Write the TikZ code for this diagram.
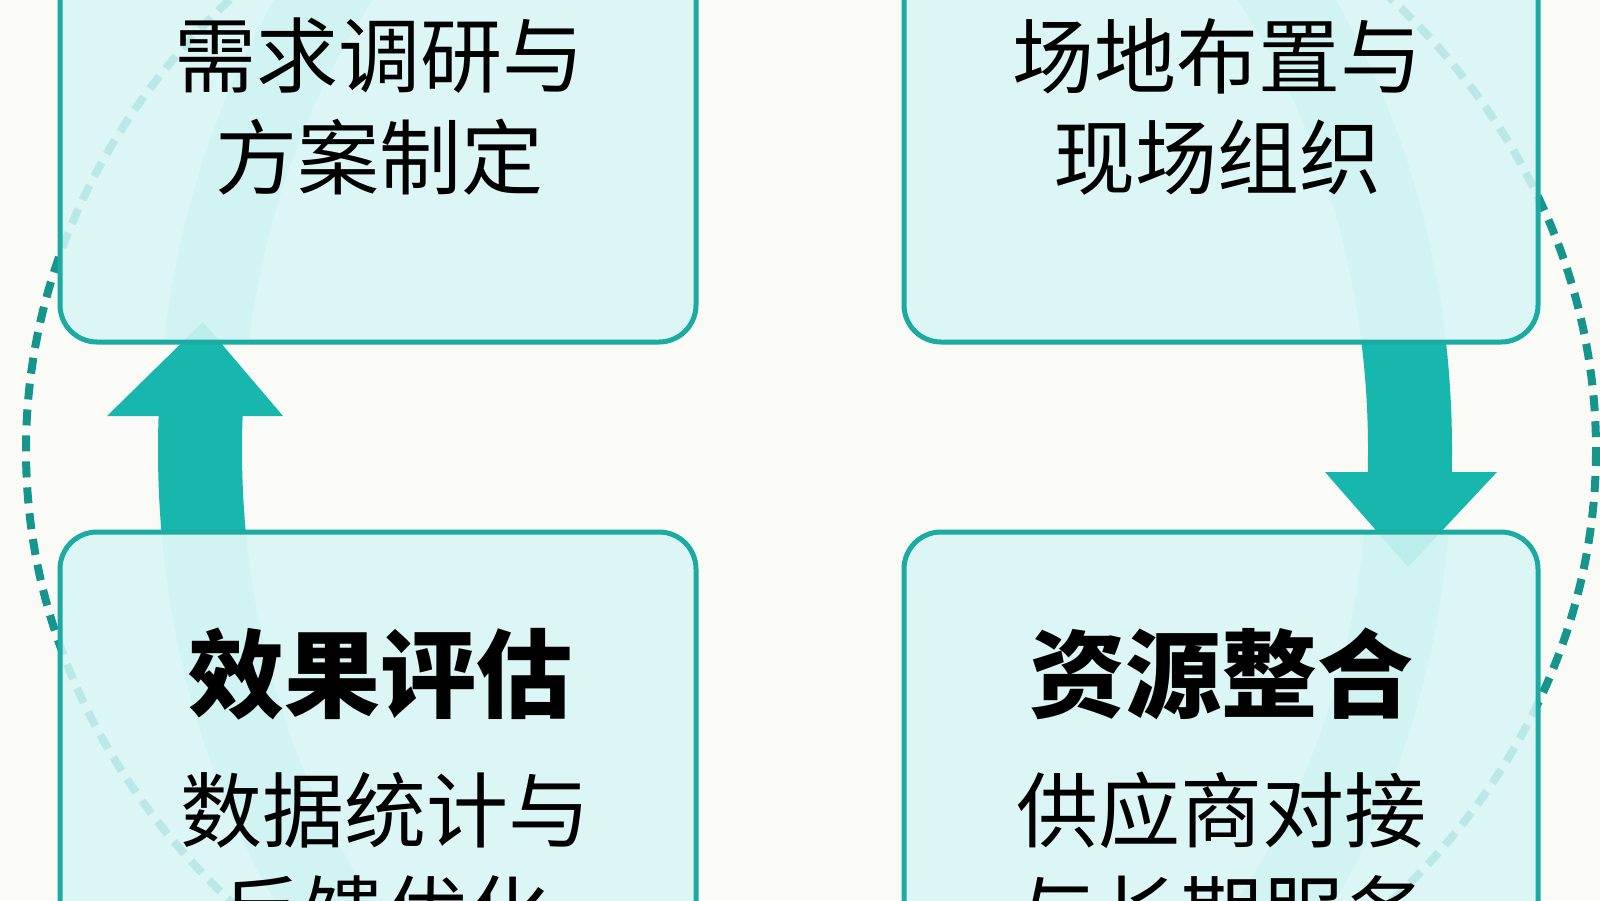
\documentclass[tikz,border=0pt]{standalone}
\usepackage{fontspec}
\newfontfamily\cjk{Noto Sans CJK SC}
\definecolor{bg}{HTML}{FAFAF6}
\definecolor{boxfill}{HTML}{D6F6F5}
\definecolor{boxline}{HTML}{1BABA3}
\definecolor{arrowc}{HTML}{17B7AD}
\definecolor{dashc}{HTML}{15958C}
\begin{document}
\begin{tikzpicture}[x=1pt,y=-1pt,
  box/.style={draw=boxline, line width=5pt, fill=boxfill, fill opacity=0.86,
    rounded corners=37pt, inner sep=0pt},
  lbl/.style={font=\cjk\fontsize{82}{100}\selectfont, anchor=base, inner sep=0pt, text=black},
  ttl/.style={font=\cjk\bfseries\fontsize{96}{110}\selectfont, anchor=base, inner sep=0pt, text=black},
  head/.style={fill=arrowc, draw=none},
  band/.style={draw=arrowc, line width=84pt},
  faintband/.style={draw=arrowc, draw opacity=0.3, line width=84pt},
  ring/.style={draw=dashc, line width=8pt, dash pattern=on 16pt off 10pt}]
% background
\fill[bg] (0,0) rectangle (1600,900);
\useasboundingbox (0,0) rectangle (1600,900);
\clip (0,0) rectangle (1600,900);
% dashed outer ring
\draw[ring] (811,450) ellipse [x radius=785, y radius=670];
% flow band, faint where the boxes cover it
\begin{scope}
  \clip (-10,-10) rectangle (1610,342)
        (-10,532) rectangle (1610,910);
  \draw[faintband] (805,450) ellipse [x radius=605, y radius=745];
\end{scope}
% arrow shafts
\begin{scope}
  \clip (-10,416) rectangle (800,532)
        (800,342) rectangle (1610,472);
  \draw[band] (805,450) ellipse [x radius=605, y radius=745];
\end{scope}
% arrow heads
\coordinate (lhl) at (107,416);
\coordinate (lhr) at (283,416);
\coordinate (lht) at (203,322);
\coordinate (rhl) at (1325,472);
\coordinate (rhr) at (1497,472);
\coordinate (rht) at (1408,567);
\fill[head] (lhl) -- (lhr) -- (lht) -- cycle;
\fill[head] (rhl) -- (rhr) -- (rht) -- cycle;
% boxes
\node[box, minimum width=636pt, minimum height=642pt] (b1) at (378,21) {};
\node[box, minimum width=634pt, minimum height=642pt] (b2) at (1221,21) {};
\node[box, minimum width=636pt, minimum height=668pt] (b4) at (378,866) {};
\node[box, minimum width=634pt, minimum height=668pt] (b3) at (1221,866) {};
% texts
\node[lbl] (t1a) at (379,86) {需求调研与};
\node[lbl] (t1b) at (379,188) {方案制定};
\node[lbl] (t2a) at (1217,87) {场地布置与};
\node[lbl] (t2b) at (1217,188) {现场组织};
\node[ttl] (t3a) at (1221,710) {资源整合};
\node[lbl] (t3b) at (1221,841) {供应商对接};
\node[lbl] (t3c) at (1221,944) {与长期服务};
\node[ttl] (t4a) at (380,710) {效果评估};
\node[lbl] (t4b) at (385,841) {数据统计与};
\node[lbl] (t4c) at (385,944) {反馈优化};
\end{tikzpicture}
\end{document}
